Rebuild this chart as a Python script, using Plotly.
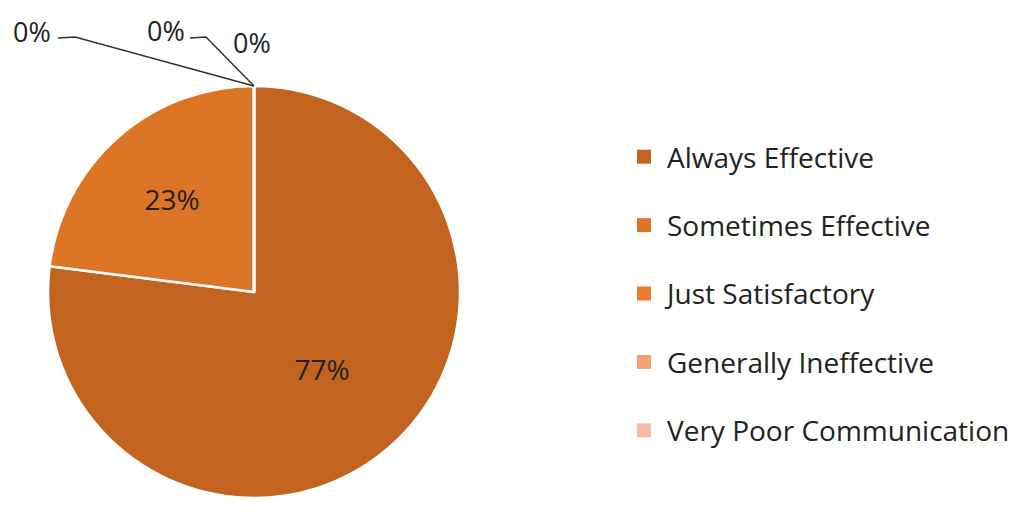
import plotly.graph_objects as go

categories = [
    "Always Effective",
    "Sometimes Effective",
    "Just Satisfactory",
    "Generally Ineffective",
    "Very Poor Communication",
]
shares = [77, 23, 0, 0, 0]
colors = ["#C2641F", "#DC7626", "#EA7C2C", "#F2A272", "#F6BCA4"]

# page body adds an 8px margin, so the figure is laid out 8px smaller
W, H = 1018, 512
OFF = 8
cx, cy, r = 254 - OFF, 292 - OFF, 206  # pie centre / radius in pixels
font = "Open Sans"
txt = "#222222"


def px(x):
    return (x - OFF) / W


def py(y):
    return 1 - (y - OFF) / H


fig = go.Figure()

fig.add_trace(
    go.Pie(
        labels=categories,
        values=shares,
        sort=False,
        direction="clockwise",
        rotation=0,
        marker={"colors": colors, "line": {"color": "white", "width": 2.5}},
        texttemplate="%{percent:.0%}",
        textposition=["inside" if v > 0 else "none" for v in shares],
        insidetextorientation="horizontal",
        textfont={"family": font, "size": 28, "color": txt},
        domain={
            "x": [(cx - r) / W, (cx + r) / W],
            "y": [1 - (cy + r) / H, 1 - (cy - r) / H],
        },
        showlegend=False,
        hoverinfo="label+percent",
    )
)

# legend entries (one group per category so they can be spaced apart)
for i, (name, col) in enumerate(zip(categories, colors)):
    fig.add_trace(
        go.Scatter(
            x=[None],
            y=[None],
            mode="markers",
            name=name,
            legendgroup=f"g{i}",
            marker={"symbol": "square", "size": 14, "color": col},
        )
    )

# zero-share labels with leader lines to the top of the pie
zeros = [s for s in shares if s == 0]
top_x, top_y = px(cx + OFF), py(cy + OFF - r)
label_pos = [(32, 31), (166, 30), (252, 42)]
for (lx, ly), v in zip(label_pos, zeros):
    fig.add_annotation(
        x=px(lx), y=py(ly), xref="paper", yref="paper",
        xanchor="center", yanchor="middle",
        text=f"{v}%", showarrow=False,
        font={"family": font, "size": 27, "color": txt},
    )
for x0, x1 in [(58, 75), (190, 206)]:
    fig.add_shape(
        type="path", xref="paper", yref="paper",
        path=f"M {px(x0)} {py(38)} L {px(x1)} {py(37)} L {top_x} {top_y}",
        line={"color": "#333", "width": 1.5},
    )

fig.update_layout(
    width=W,
    height=H,
    margin={"l": 0, "r": 0, "t": 0, "b": 0},
    paper_bgcolor="white",
    plot_bgcolor="white",
    xaxis={"visible": False},
    yaxis={"visible": False},
    legend={
        "x": px(621),
        "y": py(132),
        "xanchor": "left",
        "yanchor": "top",
        "font": {"family": font, "size": 28, "color": txt},
        "tracegroupgap": 29,
        "itemwidth": 36,
    },
)

fig.write_html("out.html")
